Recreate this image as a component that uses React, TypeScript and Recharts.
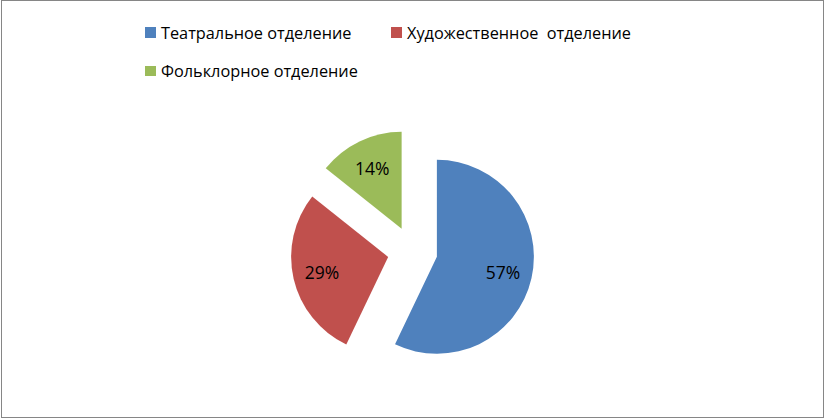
import React from 'react';
import { PieChart, Pie, Cell } from 'recharts';

const categories = ['Театральное отделение', 'Художественное  отделение', 'Фольклорное отделение'];
const values = [57.1, 28.6, 14.3];
const colors = ['#4F81BD', '#C0504D', '#9BBB59'];

const data = categories.map((name, i) => ({ name, value: values[i] }));
const total = values.reduce((a, b) => a + b, 0);

const W = 825;
const H = 418;
const CX = 412.5;
const CY = 251.3;
const R = 97;
const EXPLODE = 25;
const RAD = Math.PI / 180;

function midAngleOf(i: number): number {
  let cum = 0;
  for (let k = 0; k < i; k++) cum += values[k];
  return 90 - (360 * (cum + values[i] / 2)) / total;
}

const legendPos = [
  { left: 145, top: 32.5 },
  { left: 391, top: 32.5 },
  { left: 145, top: 71 },
];

function makeLabel(own: number) {
  return (props: any) => {
    const { cx, cy, midAngle, outerRadius, percent, index } = props;
    if (index !== own) return null;
    const r = outerRadius * 0.7;
    const x = cx + r * Math.cos(-midAngle * RAD);
    const y = cy + r * Math.sin(-midAngle * RAD);
    return (
      <text
        x={x}
        y={y}
        textAnchor="middle"
        dominantBaseline="central"
        fill="#000"
        fontSize={17.5}
        fontFamily="'Open Sans', sans-serif"
      >
        {`${Math.round(percent * 100)}%`}
      </text>
    );
  };
}

export default function App() {
  return (
    <div
      style={{
        position: 'absolute',
        left: 0,
        top: 0,
        width: W,
        height: H,
        background: '#fff',
        fontFamily: "'Open Sans', sans-serif",
      }}
    >
      <div
        style={{
          position: 'absolute',
          left: 1,
          top: 0,
          width: 823,
          height: 418,
          border: '1px solid #868686',
          boxSizing: 'border-box',
        }}
      />
      <PieChart width={W} height={H} margin={{ top: 0, right: 0, bottom: 0, left: 0 }}>
        {categories.map((_, i) => {
          const mid = midAngleOf(i);
          return (
            <Pie
              key={i}
              data={data}
              dataKey="value"
              nameKey="name"
              cx={CX + EXPLODE * Math.cos(mid * RAD)}
              cy={CY - EXPLODE * Math.sin(mid * RAD)}
              innerRadius={0}
              outerRadius={R}
              startAngle={90}
              endAngle={-270}
              stroke="none"
              isAnimationActive={false}
              labelLine={false}
              label={makeLabel(i)}
              legendType="none"
            >
              {data.map((d, j) => (
                <Cell key={j} fill={j === i ? colors[j] : 'transparent'} stroke="none" />
              ))}
            </Pie>
          );
        })}
      </PieChart>
      {categories.map((name, i) => (
        <div
          key={name}
          style={{
            position: 'absolute',
            left: legendPos[i].left,
            top: legendPos[i].top - 10,
            height: 20,
            display: 'flex',
            alignItems: 'center',
            whiteSpace: 'pre',
            fontSize: 16.3,
            color: '#000',
          }}
        >
          <div style={{ width: 10.5, height: 10.5, background: colors[i], marginRight: 5.5 }} />
          <span style={{ lineHeight: '20px' }}>{name}</span>
        </div>
      ))}
    </div>
  );
}
